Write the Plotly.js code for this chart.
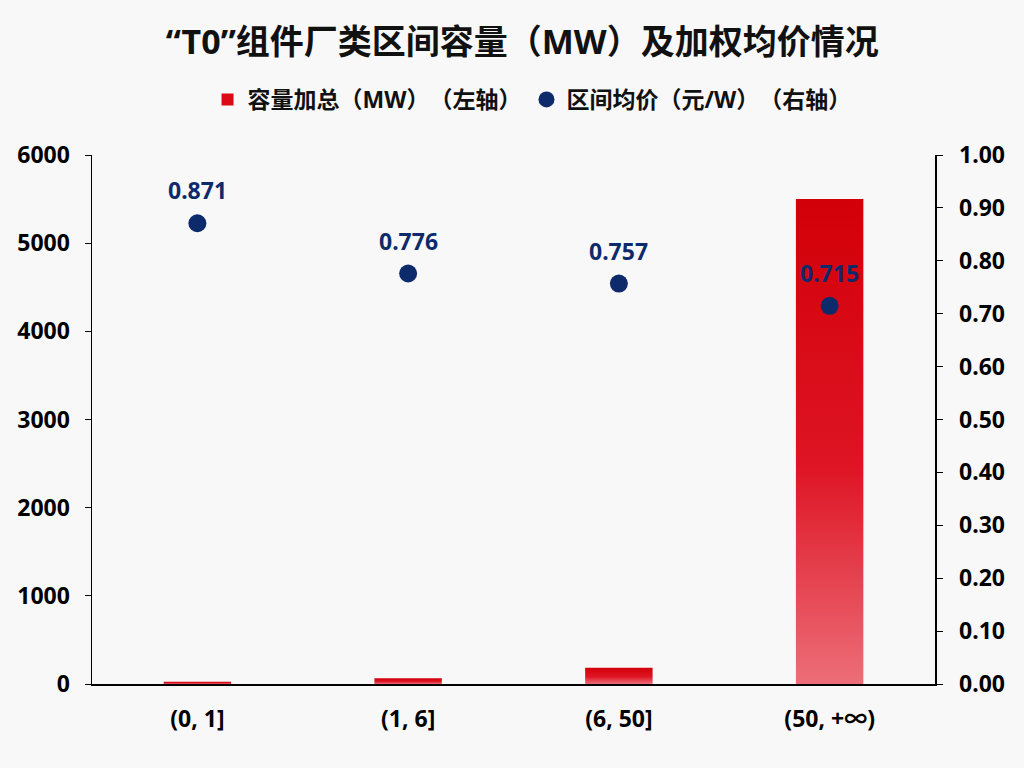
<!DOCTYPE html>
<html>
<head>
<meta charset="utf-8">
<script src="https://cdn.plot.ly/plotly-3.0.1.min.js"></script>
<style>
  html, body { margin: 0; padding: 0; background: #f8f8f8; }
  * { text-spacing-trim: space-all; }
  #chart { width: 1024px; height: 768px; }
</style>
</head>
<body>
<div id="chart"></div>
<script>
var categories = ['(0, 1]', '(1, 6]', '(6, 50]', '(50, +∞)'];
var capacity = [25, 65, 185, 5500];
var avgPrice = [0.871, 0.776, 0.757, 0.715];
var priceLabels = ['0.871', '0.776', '0.757', '0.715'];

var FONT = '"Noto Sans", "Noto Sans CJK SC", sans-serif';

var trace1 = {
    x: categories,
    y: capacity,
    name: '容量加总（MW）（左轴）',
    type: 'bar',
    marker: { color: '#dc0a16' },
    hoverinfo: 'none'
};

var trace2 = {
    x: categories,
    y: avgPrice,
    name: '区间均价（元/W）（右轴）',
    type: 'scatter',
    mode: 'markers',
    yaxis: 'y2',
    marker: { color: '#0d2a6b', size: 18 },
    hoverinfo: 'none'
};

// value labels above the price points
var labelAnnotations = [];
for (var i = 0; i < categories.length; i++) {
    labelAnnotations.push({
        x: categories[i],
        y: avgPrice[i],
        xref: 'x',
        yref: 'y2',
        text: priceLabels[i],
        showarrow: false,
        yshift: 33,
        font: { family: FONT, size: 23, color: '#0d2a6b', weight: 'bold' }
    });
}

var layout = {
    width: 1024,
    height: 768,
    paper_bgcolor: '#f8f8f8',
    plot_bgcolor: '#f8f8f8',
    font: { family: FONT, color: '#000', weight: 'bold' },
    title: {
        text: '“T0”组件厂类区间容量（MW）及加权均价情况',
        font: { family: FONT, size: 34, color: '#111', weight: 'bold' },
        x: 0.51,
        xanchor: 'center',
        y: 0.945,
        yanchor: 'middle'
    },
    annotations: labelAnnotations,
    showlegend: true,
    legend: {
        orientation: 'h',
        x: 0.522,
        xanchor: 'center',
        y: 1.105,
        yanchor: 'middle',
        font: { family: FONT, size: 23, color: '#111', weight: 'bold' },
        itemwidth: 30,
        tracegroupgap: 0,
        bgcolor: 'rgba(0,0,0,0)'
    },
    margin: { l: 92, r: 89, t: 155, b: 84, pad: 0 },
    bargap: 0.68,
    xaxis: {
        showgrid: false,
        zeroline: false,
        showline: true,
        linecolor: '#000',
        linewidth: 1.5,
        ticks: '',
        ticklabelstandoff: 14,
        tickfont: { family: FONT, size: 23, color: '#000', weight: 'bold' },
        fixedrange: true
    },
    yaxis: {
        range: [0, 6000],
        dtick: 1000,
        showgrid: false,
        zeroline: false,
        showline: true,
        linecolor: '#000',
        linewidth: 1.5,
        ticks: 'outside',
        ticklen: 6,
        tickcolor: '#000',
        ticklabelstandoff: 10,
        tickfont: { family: FONT, size: 23, color: '#000', weight: 'bold' },
        fixedrange: true
    },
    yaxis2: {
        overlaying: 'y',
        side: 'right',
        range: [0, 1],
        dtick: 0.1,
        tickformat: '.2f',
        showgrid: false,
        zeroline: false,
        showline: true,
        linecolor: '#000',
        linewidth: 1.5,
        ticks: 'outside',
        ticklen: 6,
        tickcolor: '#000',
        ticklabelstandoff: 12,
        tickfont: { family: FONT, size: 23, color: '#000', weight: 'bold' },
        fixedrange: true
    }
};

Plotly.newPlot('chart', [trace1, trace2], layout, { displayModeBar: false, staticPlot: true }).then(function (gd) {
    // vertical red gradient on the bars, like the original
    var svg = gd.querySelector('.main-svg');
    var ns = 'http://www.w3.org/2000/svg';
    var defs = svg.querySelector('defs') || svg.insertBefore(document.createElementNS(ns, 'defs'), svg.firstChild);
    var grad = document.createElementNS(ns, 'linearGradient');
    grad.setAttribute('id', 'barGrad');
    grad.setAttribute('x1', '0'); grad.setAttribute('y1', '0');
    grad.setAttribute('x2', '0'); grad.setAttribute('y2', '1');
    [['0', '#d20008'], ['0.55', '#de1424'], ['1', '#ec6e78']].forEach(function (s) {
        var st = document.createElementNS(ns, 'stop');
        st.setAttribute('offset', s[0]);
        st.setAttribute('stop-color', s[1]);
        grad.appendChild(st);
    });
    defs.appendChild(grad);
    gd.querySelectorAll('.barlayer .point path').forEach(function (p) {
        p.style.fill = 'url(#barGrad)';
    });
    // bigger square legend swatch for the bars
    gd.querySelectorAll('.legend path.legendbar').forEach(function (p) {
        p.setAttribute('d', 'M8,8H-8V-8H8Z');
    });
});
</script>
</body>
</html>
